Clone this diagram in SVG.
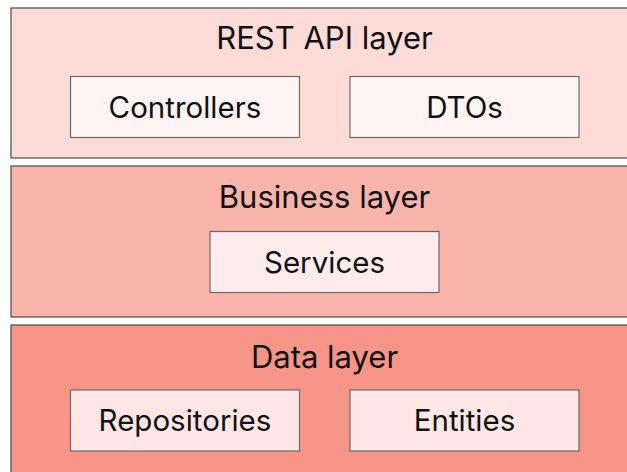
<svg xmlns="http://www.w3.org/2000/svg" width="627" height="472" viewBox="0 0 627 472">
  <style>
    .layer { stroke: #4a4a4a; stroke-width: 1.2; }
    .part { stroke: #6a6a6a; stroke-width: 1.2; }
    .title { font-family: Inter, "Liberation Sans", sans-serif; font-size: 31px; fill: #111; text-anchor: middle; }
    .label { font-family: Inter, "Liberation Sans", sans-serif; font-size: 29.5px; fill: #111; text-anchor: middle; }
  </style>
  <rect width="627" height="472" fill="#ffffff"/>

  <!-- REST API layer -->
  <g id="rest-api-layer">
    <rect class="layer" x="11" y="8" width="627" height="150" fill="#fddcd8"/>
    <text class="title" x="324.5" y="48.5">REST API layer</text>
  </g>
  <g id="controllers">
    <rect class="part" x="70.5" y="76.5" width="229" height="61" fill="#fdf4f3"/>
    <text class="label" x="185" y="118">Controllers</text>
  </g>
  <g id="dtos">
    <rect class="part" x="350" y="76.5" width="229" height="61" fill="#fdf4f3"/>
    <text class="label" x="464.5" y="118">DTOs</text>
  </g>

  <!-- Business layer -->
  <g id="business-layer">
    <rect class="layer" x="11" y="166" width="627" height="151" fill="#f9b4ab"/>
    <text class="title" x="324.5" y="208">Business layer</text>
  </g>
  <g id="services">
    <rect class="part" x="210" y="231.5" width="229" height="61" fill="#fdeceb"/>
    <text class="label" x="324.5" y="273">Services</text>
  </g>

  <!-- Data layer -->
  <g id="data-layer">
    <rect class="layer" x="11" y="325" width="627" height="160" fill="#f69487"/>
    <text class="title" x="324.5" y="368">Data layer</text>
  </g>
  <g id="repositories">
    <rect class="part" x="70.5" y="390" width="229" height="61" fill="#fde6e5"/>
    <text class="label" x="185" y="431">Repositories</text>
  </g>
  <g id="entities">
    <rect class="part" x="350" y="390" width="229" height="61" fill="#fde6e5"/>
    <text class="label" x="464.5" y="431">Entities</text>
  </g>

  <!-- no connectors between the stacked layers -->
  <g id="connectors"/>
</svg>
